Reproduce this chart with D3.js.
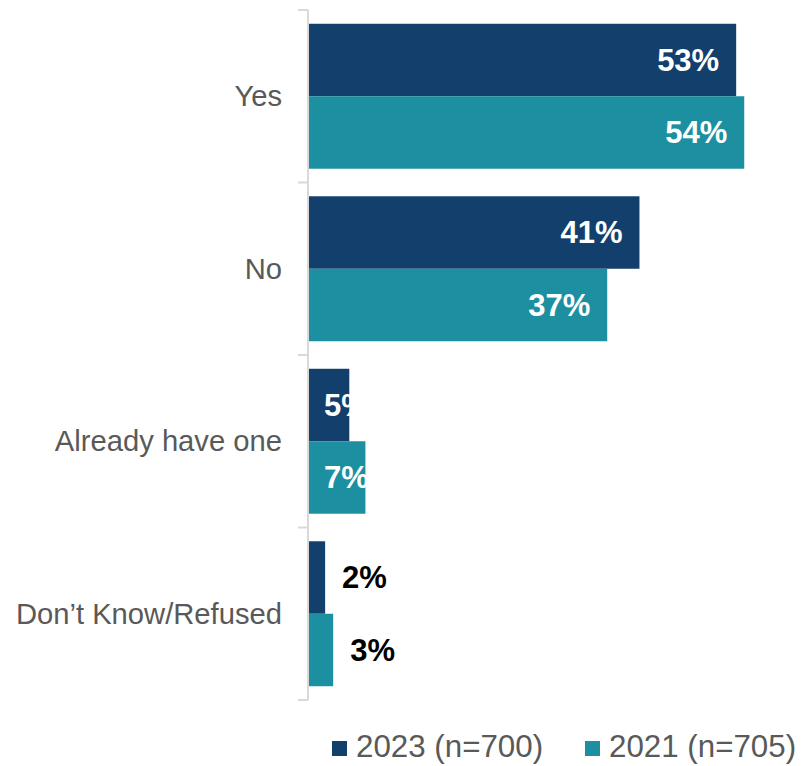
<!DOCTYPE html>
<html>
<head>
<meta charset="utf-8">
<script src="https://cdn.jsdelivr.net/npm/d3@7"></script>
<style>
  html, body { margin: 0; padding: 0; background: #fff; }
  svg { display: block; font-family: Arial, "Liberation Sans", sans-serif; }
</style>
</head>
<body>
<svg id="chart" width="801" height="766"></svg>
<script>
// Survey responses by year (percent)
const categories = ["Yes", "No", "Already have one", "Don\u2019t Know/Refused"];
const seriesNames = ["2023 (n=700)", "2021 (n=705)"];
const values2023 = [53, 41, 5, 2];
const values2021 = [54, 37, 7, 3];
const seriesColors = ["#133F6D", "#1C90A1"];

const seriesValues = [values2023, values2021];
const svg = d3.select("#chart");

const plotLeft = 309, plotTop = 10, plotBottom = 700;

const x = d3.scaleLinear().domain([0, 60]).range([plotLeft, plotLeft + 60 * 8.06]);
const y = d3.scaleBand().domain(categories).range([plotTop, plotBottom]).paddingInner(0).paddingOuter(0);
const ySub = d3.scaleBand().domain(seriesNames).range([0, y.bandwidth()]).paddingInner(0).paddingOuter(0.19);

const rows = [];
categories.forEach((c, i) => {
  seriesNames.forEach((s, j) => {
    rows.push({ cat: c, series: s, si: j, value: seriesValues[j][i] });
  });
});

// Bars
svg.selectAll("rect.bar")
  .data(rows)
  .join("rect")
  .attr("class", "bar")
  .attr("x", x(0))
  .attr("y", d => y(d.cat) + ySub(d.series))
  .attr("width", d => x(d.value) - x(0))
  .attr("height", ySub.bandwidth())
  .attr("fill", d => seriesColors[d.si]);

// Value labels: inside the bar end when there is room, outside otherwise
const labelPad = 17;
svg.selectAll("text.val")
  .data(rows)
  .join("text")
  .attr("class", "val")
  .attr("y", d => y(d.cat) + ySub(d.series) + ySub.bandwidth() / 2)
  .attr("dy", "0.35em")
  .attr("font-size", 31)
  .attr("font-weight", "bold")
  .each(function (d) {
    const t = d3.select(this);
    if (d.value >= 5) {
      const end = x(d.value) - labelPad;
      t.attr("fill", "#fff").text(d.value + "%");
      const tw = this.getComputedTextLength();
      const start = Math.max(end - tw, x(0) + 15);
      t.attr("x", start).attr("text-anchor", "start");
    } else {
      t.attr("fill", "#000").attr("x", x(d.value) + labelPad).attr("text-anchor", "start").text(d.value + "%");
    }
  });

// Category axis
const axisG = svg.append("g").attr("transform", `translate(${plotLeft - 1},0)`);
axisG.append("line")
  .attr("x1", 0).attr("x2", 0)
  .attr("y1", plotTop).attr("y2", plotBottom)
  .attr("stroke", "#D9D9D9").attr("stroke-width", 2);
const boundaries = categories.map(c => y(c)).concat([plotBottom]);
axisG.selectAll("line.tick")
  .data(boundaries)
  .join("line")
  .attr("class", "tick")
  .attr("x1", -10).attr("x2", 0)
  .attr("y1", d => d).attr("y2", d => d)
  .attr("stroke", "#D9D9D9").attr("stroke-width", 2);

svg.selectAll("text.cat")
  .data(categories)
  .join("text")
  .attr("class", "cat")
  .attr("x", 282)
  .attr("y", d => y(d) + y.bandwidth() / 2)
  .attr("dy", "0.35em")
  .attr("text-anchor", "end")
  .attr("font-size", 29.2)
  .attr("fill", "#595959")
  .text(d => d);

// Legend
const legendItems = [
  { name: seriesNames[0], color: seriesColors[0], x: 332 },
  { name: seriesNames[1], color: seriesColors[1], x: 585 }
];
const lg = svg.selectAll("g.legend")
  .data(legendItems)
  .join("g")
  .attr("class", "legend")
  .attr("transform", d => `translate(${d.x},741)`);
lg.append("rect")
  .attr("width", 15).attr("height", 15)
  .attr("fill", d => d.color);
lg.append("text")
  .attr("x", 24)
  .attr("y", 16)
  .attr("font-size", 31.3)
  .attr("fill", "#595959")
  .text(d => d.name);
</script>
</body>
</html>
